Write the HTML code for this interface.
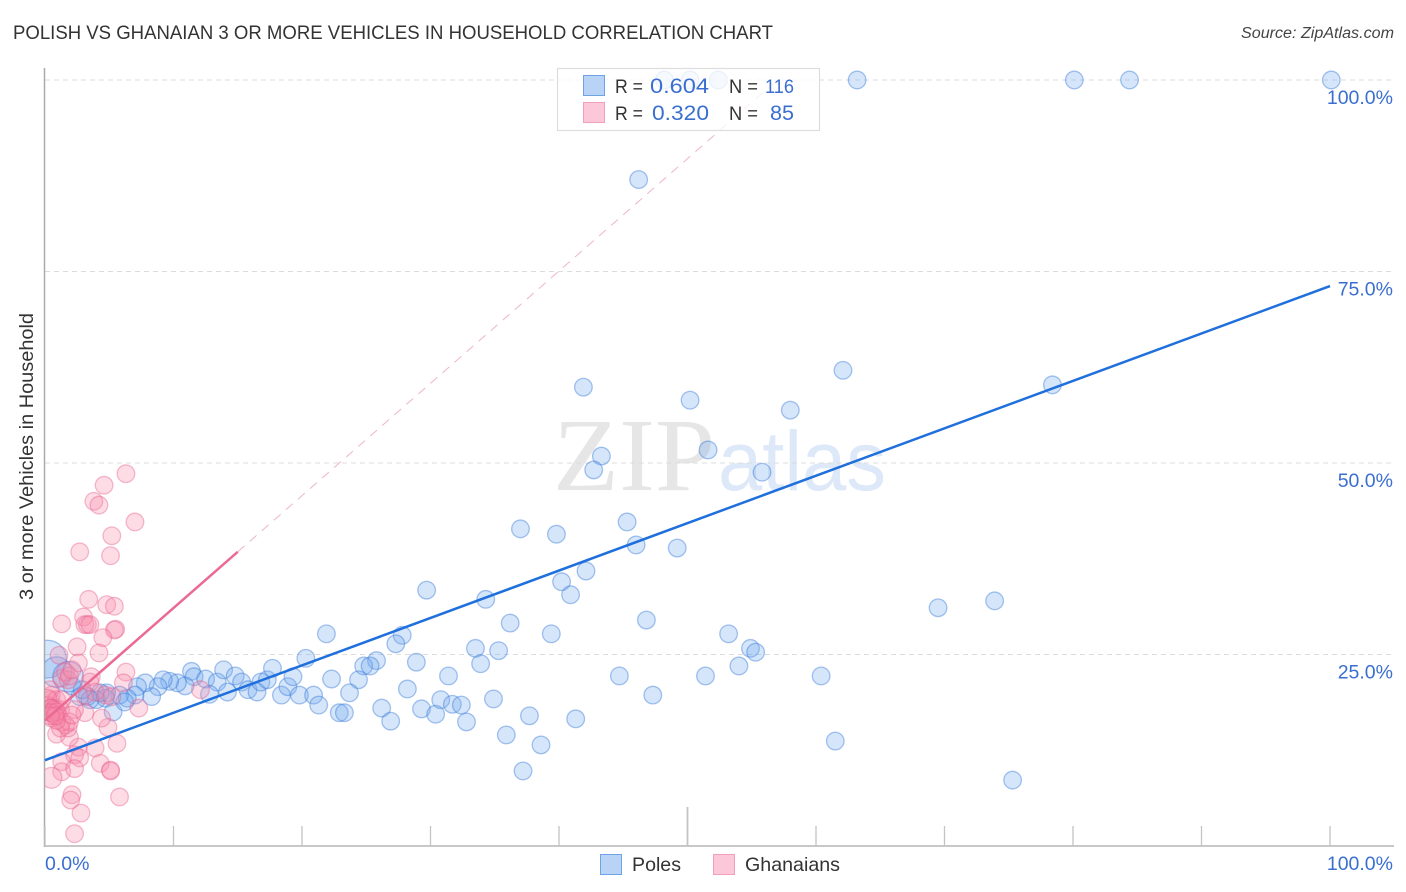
<!DOCTYPE html>
<html lang="en">
<head>
<meta charset="utf-8">
<title>Polish vs Ghanaian 3 or More Vehicles in Household Correlation Chart</title>
<style>
html,body{margin:0;padding:0;background:#fff;width:1406px;height:892px;overflow:hidden}
svg{display:block;font-family:"Liberation Sans",sans-serif}
</style>
</head>
<body>
<svg id="chart" xmlns="http://www.w3.org/2000/svg" width="1406" height="892" viewBox="0 0 1406 892">
  <defs>
    <clipPath id="plot-clip"><rect x="45" y="60" width="1350" height="786"/></clipPath>
  </defs>
  <rect x="0" y="0" width="1406" height="892" fill="#fff"/>
  <text x="13" y="39" font-size="19" fill="#333" textLength="760" lengthAdjust="spacingAndGlyphs">POLISH VS GHANAIAN 3 OR MORE VEHICLES IN HOUSEHOLD CORRELATION CHART</text>
  <text x="1241" y="38" font-size="15.5" font-style="italic" fill="#444" textLength="153" lengthAdjust="spacingAndGlyphs">Source: ZipAtlas.com</text>
  <text x="553" y="490" font-size="104" font-family="'Liberation Serif',serif" fill="#e6e6e6" textLength="162" lengthAdjust="spacingAndGlyphs">ZIP</text>
  <text x="718" y="490" font-size="84" fill="#dde8f8" textLength="168" lengthAdjust="spacingAndGlyphs">atlas</text>
  <g id="grid"></g>
  <g id="axes"></g>
  <g id="poles-points" clip-path="url(#plot-clip)"></g>
  <g id="ghanaians-points" clip-path="url(#plot-clip)"></g>
  <g id="trends"></g>
  <text transform="translate(33,456.5) rotate(-90)" font-size="19" fill="#333" text-anchor="middle" textLength="287" lengthAdjust="spacingAndGlyphs">3 or more Vehicles in Household</text>
  <g id="labels"></g>

  <g>
    <rect x="557.5" y="68.5" width="262" height="62" fill="#fff" fill-opacity="0.78" stroke="#ddd" stroke-width="1.2"/>
    <rect x="583.5" y="75.5" width="21" height="20" fill="#b8d3f6" stroke="#6fa3e6"/>
    <rect x="583.5" y="102.5" width="21" height="20" fill="#fcc7d8" stroke="#f0a0ba"/>
    <text x="615" y="93" font-size="19.5" fill="#333" textLength="28" lengthAdjust="spacingAndGlyphs">R =</text>
    <text x="650" y="93" font-size="21" fill="#3a6fd0" textLength="59" lengthAdjust="spacingAndGlyphs">0.604</text>
    <text x="729" y="93" font-size="19.5" fill="#333" textLength="29" lengthAdjust="spacingAndGlyphs">N =</text>
    <text x="765" y="93" font-size="19.5" fill="#3a6fd0" textLength="29" lengthAdjust="spacingAndGlyphs">116</text>
    <text x="615" y="120" font-size="19.5" fill="#333" textLength="28" lengthAdjust="spacingAndGlyphs">R =</text>
    <text x="652" y="120" font-size="21" fill="#3a6fd0" textLength="57" lengthAdjust="spacingAndGlyphs">0.320</text>
    <text x="729" y="120" font-size="19.5" fill="#333" textLength="29" lengthAdjust="spacingAndGlyphs">N =</text>
    <text x="770" y="120" font-size="21" fill="#3a6fd0" textLength="24" lengthAdjust="spacingAndGlyphs">85</text>
  </g>

  <g>
    <rect x="600.5" y="854.5" width="21" height="20" fill="#b8d3f6" stroke="#6fa3e6"/>
    <text x="632" y="871" font-size="19.5" fill="#333" textLength="49" lengthAdjust="spacingAndGlyphs">Poles</text>
    <rect x="713.5" y="854.5" width="21" height="20" fill="#fcc7d8" stroke="#f0a0ba"/>
    <text x="745" y="871" font-size="19.5" fill="#333" textLength="95" lengthAdjust="spacingAndGlyphs">Ghanaians</text>
  </g>
</svg>
<script>
// ---- chart data (percent values) ----
var yTickValues = [100, 75, 50, 25];
var yTickLabels = ["100.0%", "75.0%", "50.0%", "25.0%"];
var xTickValues = [0, 10, 20, 30, 40, 50, 60, 70, 80, 90, 100];
var xEndValues = [0, 100];
var xEndLabels = ["0.0%", "100.0%"];

var polesX = [100.1,84.4,80.1,63.2,52.4,50.2,48.2,46.2,62.1,78.4,41.9,50.2,58,51.6,43.3,42.7,55.8,45.3,37,39.8,46,49.2,42.1,40.2,29.7,40.9,34.3,73.9,69.5,46.8,36.2,21.9,39.4,27.8,53.2,27.3,33.5,54.9,55.3,35.3,20.3,28.9,25.8,24.8,25.3,33.9,54,44.7,51.4,60.4,31.4,47.3,34.9,26.2,29.3,30.4,22.9,23.3,37.7,41.3,26.9,32.8,35.9,61.5,38.6,37.2,75.3,
  11.4,11.6,12.5,13.4,13.9,14.8,15.3,15.8,16.5,16.8,17.3,17.7,18.4,18.9,19.3,19.8,20.9,21.3,12.8,14.2,10.9,10.3,9.7,9.2,8.8,8.3,7.8,7.2,7,6.4,5.8,5.3,4.8,4.7,4,3.3,2.7,6.2,4.3,3.5,2.1,2.9,22.3,24.4,28.2,23.7,30.8,31.7,32.4];
var polesY = [100,100,100,100,100,100,100,87,62.1,60.2,59.9,58.2,56.9,51.7,50.9,49.1,48.8,42.3,41.4,40.7,39.3,38.9,35.9,34.5,33.4,32.8,32.2,32,31.1,29.5,29.1,27.7,27.7,27.5,27.7,26.4,25.8,25.8,25.3,25.5,24.5,24,24.2,23.5,23.5,23.8,23.5,22.2,22.2,22.2,22.2,19.7,19.2,18,17.9,17.2,17.4,17.4,17,16.6,16.3,16.2,14.5,13.7,13.2,9.8,8.6,
  22.8,22.1,21.8,21.4,23,22.2,21.4,20.4,20.1,21.4,21.7,23.2,19.7,20.8,22.1,19.7,19.7,18.4,19.8,20.1,20.9,21.3,21.5,21.7,20.8,19.5,21.3,20.8,19.7,19.3,19.7,17.5,20,19.3,19.1,19.5,19.5,18.8,20,19.1,20.9,20.4,21.8,21.7,20.5,20,19.1,18.5,18.4];
var polesLargeX = [0.2, 0.9, 1.8];
var polesLargeY = [24.4, 22.7, 22.1];
var polesLargeWeight = [4.6, 3, 3];

var ghanaiansX = [6.3,4.6,3.8,4.2,7,5.2,2.7,5.1,3.4,4.8,5.4,1.3,3,3.1,3.3,3.5,5.5,5.4,4.5,2.5,4.2,1.1,2.6,3.6,6.3,6.1,12.1,1.3,1.8,1.6,1.9,2.1,7.3,4.9,4.4,3.1,2.3,5.6,3.9,2.6,2.3,2.7,1.3,4.3,5.1,5.1,1.3,2.3,2.1,2,5.8,2.8,2.3,1.9,0.9,1.8,
  0.4,0.5,0.2,0.8,1.2,0.4,0.7,1,0.1,0.5,1.3,1.6,1.9,1.2,0.9,0.4,2.1,3.9,4.7,5.2,3.1,3.5,0.9,1.3,0.2,0.5,0.4,0.7,0.5,0.9,0.4,0.8];
var ghanaiansY = [48.6,47.1,45,44.5,42.3,40.5,38.4,37.9,32.2,31.5,31.3,29,29.9,28.9,28.9,28.9,28.3,28.2,27.2,26,25.2,24.9,23.9,22.1,22.7,21.3,20.4,21.9,21.7,22.7,22.2,23,18,15.5,16.7,17.4,17.8,13.4,12.8,12.9,11.9,11.5,11,10.8,9.9,9.8,9.7,10.1,6.7,6,6.4,4.3,1.6,14.2,14.6,15.4,
  19.1,19.7,18.4,18,17.8,17.5,17.2,17,17.5,16.7,16.2,15.8,16.2,15.4,16.4,20.4,17.1,20.1,19.7,19.5,19.7,21.4,19.1,19.1,19.3,18,18,17.8,17.4,17.5,17,17];
var ghanaiansLargeX = [0.5];
var ghanaiansLargeY = [8.9];
var ghanaiansLargeWeight = [1.4];

var polesTrendX = [0, 100];
var polesTrendY = [11.2, 73.1];
var ghanaiansTrendX = [0, 15];
var ghanaiansTrendY = [16.4, 38.4];
var ghanaiansExtensionX = [15, 57];
var ghanaiansExtensionY = [38.4, 100];

// ---- axis functions ----
function xScale(v) { return 45 + v * 12.85; }
function yScale(v) { return 846 - v * 7.66; }

var NS = 'http://www.w3.org/2000/svg';
function make(tag, parentId, attrs) {
  var el = document.createElementNS(NS, tag);
  for (var k in attrs) { el.setAttribute(k, attrs[k]); }
  document.getElementById(parentId).appendChild(el);
  return el;
}

yTickValues.forEach(function (v, i) {
  var line = make('line', 'grid', { x1: 45, x2: 1393, y1: yScale(v), y2: yScale(v), stroke: '#dcdcdc', 'stroke-width': 1, 'stroke-dasharray': '5 4' });
  
  
  var label = make('text', 'labels', { x: 1393, y: yScale(v) + 24, 'font-size': 19.5, fill: '#3a6fd0', 'text-anchor': 'end' });
  label.textContent = yTickLabels[i];
  
  
});

var yAxis = make('line', 'axes', { x1: 44.5, x2: 44.5, y1: 68, y2: 847, stroke: '#aaa', 'stroke-width': 1.5 });


var xAxis = make('line', 'axes', { x1: 44, x2: 1394, y1: 846, y2: 846, stroke: '#b5b5b5', 'stroke-width': 1.5 });



xTickValues.forEach(function (v) {
  var tick = make('line', 'axes', { x1: xScale(v), x2: xScale(v), y1: v === 50 ? 807 : 826, y2: 846, stroke: '#c4c4c4', 'stroke-width': v === 50 ? 1.8 : 1.3 });
  
  
});

xEndValues.forEach(function (v, i) {
  var label = make('text', 'labels', { x: i === 0 ? xScale(v) : 1393, y: 870, 'font-size': 19.5, fill: '#3a6fd0', 'text-anchor': i === 0 ? 'start' : 'end' });
  label.textContent = xEndLabels[i];
  
  
});

function drawPoint(parent, x, y, weight, fill, stroke, name) {
  var c = make('circle', parent, { cx: xScale(x), cy: yScale(y), r: 8.8 * Math.sqrt(weight), fill: fill, 'fill-opacity': 0.3, stroke: stroke, 'stroke-opacity': 0.42, 'stroke-width': 1.3 });
  
  
}

polesX.forEach(function (x, i) { drawPoint('poles-points', x, polesY[i], 1, '#73a8ee', '#2f74d6', 'poles-point'); });
polesLargeX.forEach(function (x, i) { drawPoint('poles-points', x, polesLargeY[i], polesLargeWeight[i], '#73a8ee', '#2f74d6', 'poles-point-large'); });
ghanaiansX.forEach(function (x, i) { drawPoint('ghanaians-points', x, ghanaiansY[i], 1, '#f78aaa', '#e8608e', 'ghanaians-point'); });
ghanaiansLargeX.forEach(function (x, i) { drawPoint('ghanaians-points', x, ghanaiansLargeY[i], ghanaiansLargeWeight[i], '#f78aaa', '#e8608e', 'ghanaians-point-large'); });

var ext = make('line', 'trends', { x1: xScale(ghanaiansExtensionX[0]), y1: yScale(ghanaiansExtensionY[0]), x2: xScale(ghanaiansExtensionX[1]), y2: yScale(ghanaiansExtensionY[1]), stroke: '#eeb4c8', 'stroke-width': 1, 'stroke-dasharray': '9 7' });


var pinkTrend = make('line', 'trends', { x1: xScale(ghanaiansTrendX[0]), y1: yScale(ghanaiansTrendY[0]), x2: xScale(ghanaiansTrendX[1]), y2: yScale(ghanaiansTrendY[1]), stroke: '#ea6a94', 'stroke-width': 2.5 });


var blueTrend = make('line', 'trends', { x1: xScale(polesTrendX[0]), y1: yScale(polesTrendY[0]), x2: xScale(polesTrendX[1]), y2: yScale(polesTrendY[1]), stroke: '#1f6fdc', 'stroke-width': 2.5 });


</script>
</body>
</html>
